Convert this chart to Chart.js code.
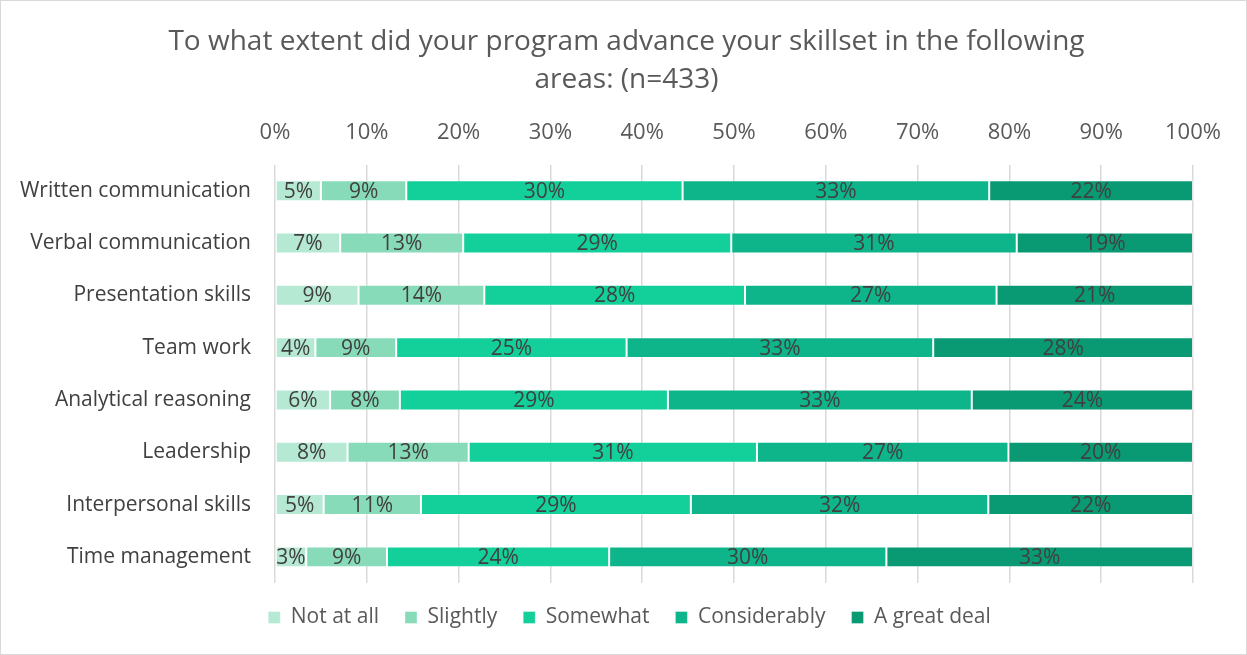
<!DOCTYPE html>
<html>
<head>
<meta charset="utf-8">
<title>Skillset advancement</title>
<script src="https://cdn.jsdelivr.net/npm/chart.js@4.4.0/dist/chart.umd.min.js"></script>
<style>
  html, body { margin: 0; padding: 0; background: #ffffff; }
  canvas { display: block; }
</style>
</head>
<body>
<canvas id="chart" width="1247" height="655"></canvas>
<script>
// Survey areas (top to bottom) and the share of respondents per answer, in %
const categories = [
  'Written communication',
  'Verbal communication',
  'Presentation skills',
  'Team work',
  'Analytical reasoning',
  'Leadership',
  'Interpersonal skills',
  'Time management'
];
const notAtAll     = [5.0, 7.1, 9.1, 4.4, 6.0, 7.9, 5.3, 3.4];
const slightly     = [9.3, 13.4, 13.7, 8.8, 7.6, 13.2, 10.6, 8.8];
const somewhat     = [30.1, 29.2, 28.4, 25.1, 29.2, 31.4, 29.4, 24.2];
const considerably = [33.4, 31.1, 27.4, 33.4, 33.1, 27.4, 32.4, 30.2];
const greatDeal    = [22.2, 19.2, 21.4, 28.3, 24.1, 20.1, 22.3, 33.4];

const seriesNames = ['Not at all', 'Slightly', 'Somewhat', 'Considerably', 'A great deal'];
const seriesColors = ['#b6e9d3', '#88dbb9', '#13cf9a', '#0fb58a', '#0a9a73'];
const xTicks = [0, 10, 20, 30, 40, 50, 60, 70, 80, 90, 100];

const FONT = '"Open Sans", "Noto Sans", sans-serif';

const series = [notAtAll, slightly, somewhat, considerably, greatDeal];
const datasets = series.map((values, i) => ({
  label: seriesNames[i],
  data: values,
  backgroundColor: seriesColors[i],
  borderColor: 'rgba(255,255,255,0.35)',
  borderWidth: 1,
  borderSkipped: false,
  barPercentage: 0.4,
  categoryPercentage: 1.0
}));

// Percent labels centred in each segment
const segmentLabels = {
  id: 'segmentLabels',
  afterDatasetsDraw(chart) {
    const ctx = chart.ctx;
    ctx.save();
    ctx.font = '21px ' + FONT;
    ctx.fillStyle = '#404040';
    ctx.textAlign = 'center';
    ctx.textBaseline = 'middle';
    chart.data.datasets.forEach((ds, di) => {
      const meta = chart.getDatasetMeta(di);
      meta.data.forEach((el, idx) => {
        const v = ds.data[idx];
        const cx = (el.x + el.base) / 2;
        ctx.fillText(Math.round(v) + '%', cx, el.y + 1);
      });
    });
    ctx.restore();
  }
};

// White page with a thin frame
const frame = {
  id: 'frame',
  beforeDraw(chart) {
    const ctx = chart.ctx;
    ctx.save();
    ctx.fillStyle = '#ffffff';
    ctx.fillRect(0, 0, chart.width, chart.height);
    ctx.strokeStyle = '#d9d9d9';
    ctx.lineWidth = 1;
    ctx.strokeRect(0.5, 0.5, chart.width - 1, chart.height - 1);
    ctx.restore();
  }
};

// Centre the title and legend on the page rather than on the padded box
const recentre = {
  id: 'recentre',
  afterLayout(chart) {
    const t = chart.titleBlock;
    if (t) { t.left += 25; t.right += 25; }
    const l = chart.legend;
    if (l) { l.left += 28; l.right += 28; l.top -= 2; l.bottom -= 2; }
  }
};

new Chart(document.getElementById('chart'), {
  type: 'bar',
  data: { labels: categories, datasets: datasets },
  plugins: [frame, recentre, segmentLabels],
  options: {
    responsive: false,
    animation: false,
    indexAxis: 'y',
    layout: { padding: { left: 10, right: 54, top: 0, bottom: 15 } },
    plugins: {
      title: {
        display: true,
        text: ['To what extent did your program advance your skillset in the following', 'areas: (n=433)'],
        color: '#595959',
        font: { family: FONT, size: 28, weight: 'normal', lineHeight: 1.36 },
        padding: { top: 23, bottom: 1 }
      },
      legend: {
        position: 'bottom',
        labels: {
          color: '#595959',
          font: { family: FONT, size: 21 },
          boxWidth: 12,
          boxHeight: 12,
          padding: 26
        }
      },
      tooltip: { enabled: false }
    },
    scales: {
      x: {
        position: 'top',
        stacked: true,
        min: 0,
        max: 100,
        afterBuildTicks(scale) {
          scale.ticks = xTicks.map(v => ({ value: v }));
        },
        ticks: {
          color: '#595959',
          font: { family: FONT, size: 22 },
          padding: 19,
          callback: v => v + '%'
        },
        grid: { color: '#d9d9d9', lineWidth: 1.5, drawTicks: false },
        border: { display: false }
      },
      y: {
        stacked: true,
        afterFit(scale) { scale.width = 265; },
        ticks: {
          color: '#404040',
          font: { family: FONT, size: 21 },
          padding: 24
        },
        grid: { display: false, drawTicks: false },
        border: { display: false }
      }
    }
  }
});
</script>
</body>
</html>
